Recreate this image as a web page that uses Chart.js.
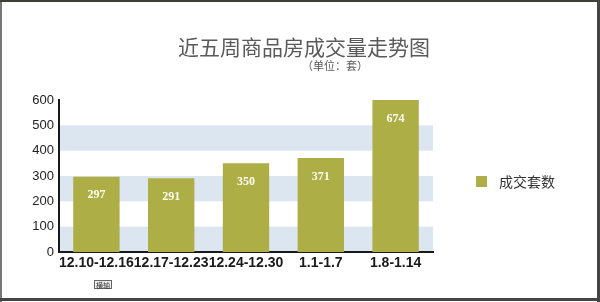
<!DOCTYPE html>
<html><head><meta charset="utf-8">
<script src="https://cdn.jsdelivr.net/npm/chart.js@4/dist/chart.umd.min.js"></script>
<style>html,body{margin:0;padding:0;background:#fff;}#wrap{position:relative;width:600px;height:302px;}</style>
</head><body><div id="wrap"><canvas id="c" width="600" height="302"></canvas></div>
<script>
const categories = ['12.10-12.16','12.17-12.23','12.24-12.30','1.1-1.7','1.8-1.14'];
const seriesName = '成交套数';
const seriesValues = [297, 291, 350, 371, 674];
const yTicks = [0, 100, 200, 300, 400, 500, 600];
const bandRanges = [[0, 100], [200, 300], [400, 500]];
const titleText = '近五周商品房成交量走势图';
const subtitleText = '（单位：套）';
const axisNote = '横轴';

const barColor = '#aeae46';
const bandColor = '#dce6f1';

const decor = {
  id: 'decor',
  beforeDraw(chart) {
    const {ctx, chartArea: a, scales: {y}} = chart;
    ctx.save();
    ctx.fillStyle = bandColor;
    bandRanges.forEach(([lo, hi]) => {
      const y1 = y.getPixelForValue(hi), y0 = y.getPixelForValue(lo);
      ctx.fillRect(a.left, y1, a.right - a.left, y0 - y1);
    });
    ctx.restore();
  },
  afterDatasetsDraw(chart) {
    const {ctx, chartArea: a} = chart;
    const meta = chart.getDatasetMeta(0);
    ctx.save();
    ctx.font = 'bold 12px "Liberation Serif"';
    ctx.fillStyle = '#fffef2';
    ctx.textAlign = 'center';
    ctx.textBaseline = 'middle';
    meta.data.forEach((bar, i) => {
      const top = Math.max(bar.y, a.top);
      ctx.fillText(String(seriesValues[i]), bar.x, top + 18.5);
    });
    ctx.restore();
  },
  afterDraw(chart) {
    const {ctx} = chart;
    ctx.save();
    // title
    ctx.fillStyle = '#5a5a5a';
    ctx.textAlign = 'center';
    ctx.textBaseline = 'middle';
    ctx.font = '21px "Noto Sans CJK SC"';
    ctx.fillText(titleText, 304, 47);
    ctx.font = '11px "Noto Sans CJK SC"';
    ctx.fillText(subtitleText, 335, 66);
    // legend
    const ds = chart.data.datasets[0];
    ctx.fillStyle = ds.backgroundColor;
    ctx.fillRect(476, 176, 11, 11);
    ctx.fillStyle = '#333';
    ctx.textAlign = 'left';
    ctx.font = '14px "Noto Sans CJK SC"';
    ctx.fillText(ds.label, 499, 182);
    // axis note
    ctx.fillStyle = '#eeeeee';
    ctx.fillRect(94, 280.5, 18, 8);
    ctx.strokeStyle = '#666';
    ctx.lineWidth = 1;
    ctx.strokeRect(94.5, 280.5, 17, 8);
    ctx.fillStyle = '#333';
    ctx.textAlign = 'center';
    ctx.font = '7px "Noto Sans CJK SC"';
    ctx.fillText(axisNote, 103, 285);
    // frame
    ctx.fillStyle = '#777';
    ctx.fillRect(0, 0, 2, 302);
    ctx.fillStyle = '#3f3f38';
    ctx.fillRect(0, 0, 600, 2);
    ctx.fillStyle = '#444';
    ctx.fillRect(597, 0, 3, 302);
    ctx.fillRect(0, 298, 600, 3);
    ctx.restore();
  }
};

new Chart(document.getElementById('c'), {
  type: 'bar',
  data: {
    labels: categories,
    datasets: [{
      label: seriesName,
      data: seriesValues,
      backgroundColor: barColor,
      barPercentage: 0.62,
      categoryPercentage: 1.0
    }]
  },
  options: {
    responsive: false,
    animation: false,
    devicePixelRatio: 1,
    layout: {padding: {top: 100, right: 167, left: 0, bottom: 0}},
    plugins: {legend: {display: false}, title: {display: false}, tooltip: {enabled: false}},
    scales: {
      x: {
        grid: {display: false, drawTicks: false},
        border: {display: true, color: '#1a1a1a', width: 2},
        ticks: {
          font: {family: '"Liberation Sans", Arial', size: 14, weight: 'bold'},
          color: '#1a1a1a', maxRotation: 0, minRotation: 0, autoSkip: false, padding: 3
        },
        afterFit(s) { s.height = 50; }
      },
      y: {
        min: 0, max: 600,
        afterBuildTicks(s) { s.ticks = yTicks.map(v => ({value: v})); },
        grid: {display: false, drawTicks: false},
        border: {display: true, color: '#1a1a1a', width: 2},
        ticks: {
          font: {family: '"Liberation Sans", Arial', size: 13},
          color: '#222', padding: 5
        },
        afterFit(s) { s.width = 59; }
      }
    }
  },
  plugins: [decor]
});
</script></body></html>
